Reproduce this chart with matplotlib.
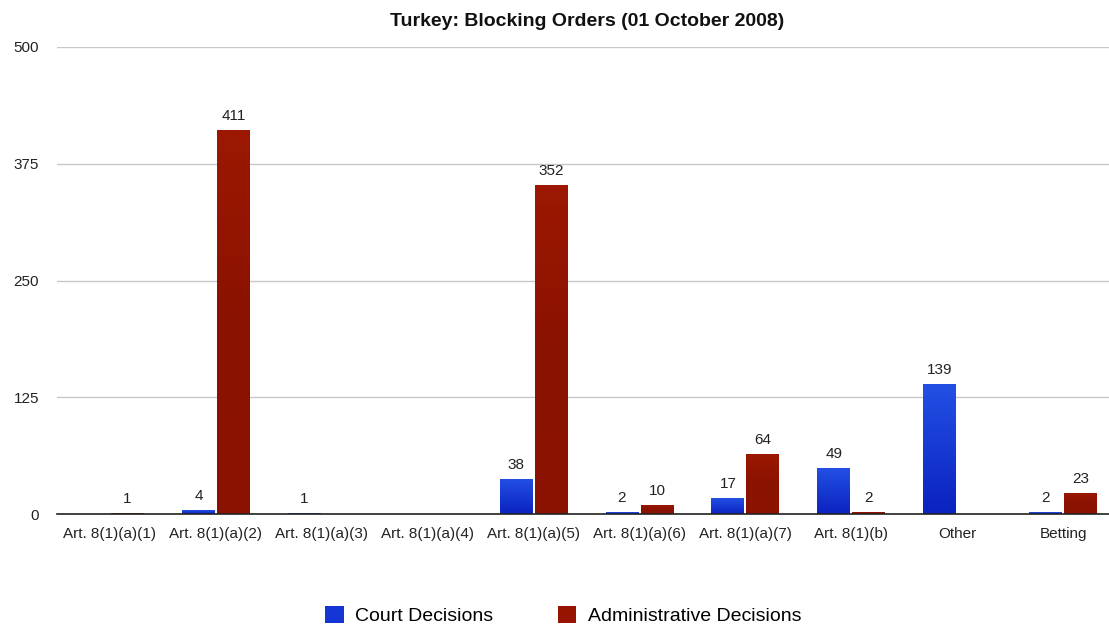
import numpy as np
import matplotlib
matplotlib.use("Agg")
import matplotlib.pyplot as plt
from matplotlib.patches import Patch
from matplotlib.colors import LinearSegmentedColormap

plt.rcParams['font.family'] = ['Liberation Sans', 'DejaVu Sans']

categories = ["Art. 8(1)(a)(1)", "Art. 8(1)(a)(2)", "Art. 8(1)(a)(3)", "Art. 8(1)(a)(4)",
              "Art. 8(1)(a)(5)", "Art. 8(1)(a)(6)", "Art. 8(1)(a)(7)", "Art. 8(1)(b)",
              "Other", "Betting"]
# None = no value in that category
court = [None, 4, 1, None, 38, 2, 17, 49, 139, 2]
admin = [1, 411, None, None, 352, 10, 64, 2, None, 23]
yticks = [0, 125, 250, 375, 500]

blue = '#1536d4'
red = '#961400'
blue_cm = LinearSegmentedColormap.from_list('b', ['#0b22c0', '#2350e4'])
red_cm = LinearSegmentedColormap.from_list('r', ['#8c1300', '#8a1200', '#9c1802'])

fig = plt.figure(figsize=(11.09, 6.25), dpi=100)
ax = fig.add_axes([57 / 1109, 0.1776, 1059 / 1109, 0.7472])

x = np.arange(len(categories))
w = 0.31
off = 0.165
grad = np.linspace(0, 1, 256).reshape(-1, 1)

def draw(vals, dx, cmap):
    for xi, v in zip(x, vals):
        if v is None:
            continue
        b = ax.bar(xi + dx, v, width=w, color='none', edgecolor='none', zorder=3)[0]
        im = ax.imshow(grad, extent=[xi + dx - w / 2, xi + dx + w / 2, 0, v], origin='lower',
                       aspect='auto', cmap=cmap, zorder=3)
        im.set_clip_path(b)
        ax.annotate(str(v), (xi + dx, v), xytext=(0, 5), textcoords='offset points',
                    ha='center', va='bottom', fontsize=11, color='#222222')

draw(court, -off, blue_cm)
draw(admin, off, red_cm)

ax.set_xlim(-0.5, len(categories) - 0.5)
ax.set_ylim(0, 500)
ax.set_yticks(yticks)
ax.set_yticklabels([str(t) for t in yticks], fontsize=11, color='#222222')
ax.set_xticks(x)
ax.set_xticklabels(categories, fontsize=11, color='#222222')
ax.tick_params(axis='both', length=0)
ax.tick_params(axis='y', pad=13)
ax.tick_params(axis='x', pad=9.5)
ax.yaxis.grid(True, color='#c8c8c8', linewidth=1, zorder=0)
ax.set_axisbelow(True)
for s in ['top', 'right', 'left']:
    ax.spines[s].set_visible(False)
ax.spines['bottom'].set_color('#222222')
ax.spines['bottom'].set_linewidth(1.2)
ax.spines['bottom'].set_zorder(4)

fig.text(0.529, 0.966, "Turkey: Blocking Orders (01 October 2008)", ha='center', va='center',
         fontsize=14, fontweight='bold', color='#111111')

handles = [Patch(facecolor=blue, edgecolor='none'), Patch(facecolor=red, edgecolor='none')]
fig.legend(handles, ["Court Decisions", "Administrative Decisions"], loc='center',
           bbox_to_anchor=(0.508, 0.015), ncol=2, frameon=False, fontsize=14,
           handlelength=0.95, handleheight=0.95, handletextpad=0.6, columnspacing=3.3)

fig.savefig("out.png", dpi=100)
